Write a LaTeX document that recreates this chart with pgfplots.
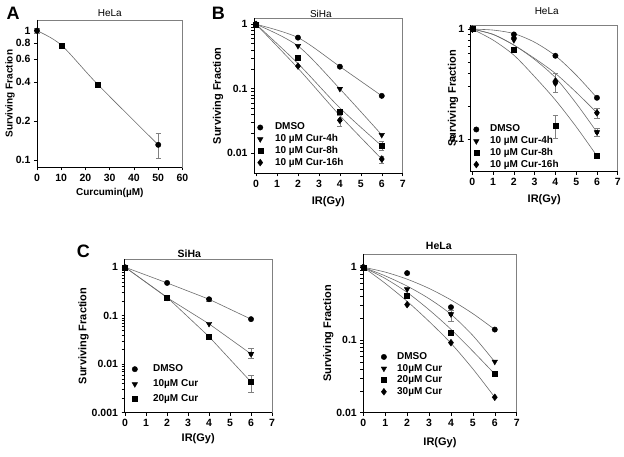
\documentclass[border=0pt]{standalone}
\usepackage{pgfplots}
\pgfplotsset{compat=1.18}
\usepackage{fontspec}
\setmainfont{Liberation Sans}

\newcommand\fs{\fontsize{10.5}{12}\selectfont}
\newcommand\fl{\fontsize{11}{13}\selectfont}
\newcommand\fleg{\fontsize{10}{11}\selectfont\bfseries}

\pgfplotsset{
  panel/.style={
    scale only axis, clip=false,
    axis line style={gray, line width=0.5pt},
    tick pos=left, tick align=outside,
    major tick length=3pt,
    tick style={black, line width=0.5pt},
    tick label style={font=\fs\bfseries},
    /pgf/number format/assume math mode=true,
    label style={font=\fl\bfseries},
    xlabel style={anchor=center},
    ylabel style={anchor=center},
    title style={font=\fontsize{10}{12}\selectfont, at={(axis description cs:0.5,1)}, anchor=base},
    legend cell align=left,
    legend image code/.code={\draw[##1] plot coordinates {(0pt,0pt)};},
    legend style={draw=none, fill=none, anchor=north west, font=\fleg,
      inner sep=0pt, row sep=0pt,
      nodes={text height=7pt, text depth=2pt, inner xsep=1pt}},
    after end axis/.code={\draw[black, line width=0.6pt] (rel axis cs:0,1) -- (rel axis cs:0,0) -- (rel axis cs:1,0);},
  },
  fit/.style={forget plot, gray!85!black, line width=0.6pt, no marks},
  eb/.style={forget plot, only marks, mark=none,
    error bars/y dir=both, error bars/y explicit,
    error bars/error bar style={draw=gray, line width=0.5pt},
    error bars/error mark options={rotate=90, draw=gray, mark size=2.6pt}},
  mc/.style={only marks, mark=*, mark size=2.7pt, black},
  mt/.style={only marks, mark=triangle*, mark size=3.2pt, mark options={rotate=180}, black},
  ms/.style={only marks, mark=square*, mark size=2.5pt, black},
  md/.style={only marks, mark=diamond*, mark size=3.4pt, black},
}

\begin{document}
\begin{tikzpicture}
\useasboundingbox (0,0) rectangle (624pt,457pt);

\node[font=\fontsize{18}{18}\selectfont\bfseries] at (13pt,444pt) {A};
\node[font=\fontsize{18}{18}\selectfont\bfseries] at (218.3pt,443.7pt) {B};
\node[font=\fontsize{18}{18}\selectfont\bfseries] at (83.3pt,205.3pt) {C};

% ---- A: HeLa, curcumin dose
\begin{axis}[panel, ymode=log, at={(37pt,289.5pt)}, anchor=south west, width=145.5pt, height=147.5pt,
  xmin=0, xmax=60, ymin=0.0875, ymax=1.21, xtick={0,10,...,60},
  ytick={0.1,0.2,0.4,0.6,0.8,1}, yticklabels={0.1,0.2,0.4,0.6,0.8,1},
  xlabel={Curcumin(µM)}, ylabel={Surviving Fraction}, title={HeLa},
  label style={font=\fontsize{10}{12}\selectfont\bfseries},
  title style={yshift=-2.8pt},
  xlabel style={at={(axis description cs:0.5,-0.17)}},
  ylabel style={at={(axis description cs:-0.186,0.5)}}]
\addplot[fit, smooth] coordinates {(0,1) (10,0.775) (25,0.385) (50,0.131)};
\addplot[eb] coordinates {(0,1) +- (0,0.04) (50,0.131) += (0,0.029) -= (0,0.028)};
\addplot[mc] coordinates {(0,1) (50,0.131)};
\addplot[ms] coordinates {(10,0.77) (25,0.385)};
\end{axis}

% ---- B: SiHa
\begin{axis}[panel, ymode=log, at={(254pt,283.7pt)}, anchor=south west, width=148.7pt, height=155pt,
  xmin=-0.1, xmax=7, ymin=0.0048, ymax=1.24, xtick={0,...,7},
  ytick={0.01,0.1,1}, yticklabels={0.01,0.1,1},
  xlabel={IR(Gy)}, ylabel={Surviving Fraction}, title={SiHa},
  title style={yshift=-5.2pt, xshift=-7.5pt},
  xlabel style={at={(axis description cs:0.5,-0.183)}},
  ylabel style={at={(axis description cs:-0.242,0.5)}},
  legend style={at={(axis description cs:0.022,0.3345)}, column sep=11pt, nodes={inner ysep=1.35pt}}]
\addplot[fit, smooth] coordinates {(0,1) (2,0.62) (4,0.22) (6,0.077)};
\addplot[fit, smooth] coordinates {(0,1) (2,0.46) (4,0.099) (6,0.019)};
\addplot[fit, smooth] coordinates {(0,1) (2,0.245) (4,0.05) (6,0.0128)};
\addplot[fit, smooth] coordinates {(0,1) (2,0.207) (4,0.038) (6,0.008)};
\addplot[eb] coordinates {(2,0.306) +- (0,0.03) (4,0.0321) += (0,0.007) -= (0,0.0065)
  (6,0.0128) += (0,0.0022) -= (0,0.0018) (6,0.008) += (0,0.0009) -= (0,0.001)};
\addplot[mc] coordinates {(0,1) (2,0.62) (4,0.219) (6,0.077)};
\addplot[mt] coordinates {(0,1) (2,0.46) (4,0.099) (6,0.019)};
\addplot[ms] coordinates {(0,1) (2,0.306) (4,0.0444) (6,0.0128)};
\addplot[md] coordinates {(0,1) (2,0.224) (4,0.0321) (6,0.008)};
\legend{DMSO, 10 µM Cur-4h, 10 µM Cur-8h, 10 µM Cur-16h}
\end{axis}

% ---- B: HeLa
\begin{axis}[panel, ymode=log, at={(470.7pt,285.3pt)}, anchor=south west, width=147pt, height=146.7pt,
  xmin=-0.08, xmax=7, ymin=0.0508, ymax=1.09, xtick={0,...,7},
  ytick={0.1,1}, yticklabels={0.1,1},
  xlabel={IR(Gy)}, ylabel={Surviving Fraction}, title={HeLa},
  title style={yshift=4.2pt, xshift=2.5pt},
  xlabel style={at={(axis description cs:0.5,-0.193)}},
  ylabel style={at={(axis description cs:-0.12,0.5)}},
  legend style={at={(axis description cs:0.018,0.329)}, column sep=10pt, nodes={inner ysep=1.35pt}}]
\addplot[fit, smooth] coordinates {(0,1) (1,0.98) (2,0.91) (3,0.76) (4,0.573) (5,0.383) (6,0.238)};
\addplot[fit, smooth] coordinates {(0,1) (1,0.895) (2,0.716) (3,0.53) (4,0.362) (5,0.212) (6,0.116)};
\addplot[fit, smooth] coordinates {(0,1) (1,0.795) (2,0.58) (3,0.37) (4,0.227) (5,0.13) (6,0.0706)};
\addplot[fit, smooth] coordinates {(0,1) (1,0.895) (2,0.716) (3,0.542) (4,0.396) (5,0.267) (6,0.174)};
\addplot[eb] coordinates {(4,0.322) += (0,0.08) -= (0,0.055) (4,0.132) += (0,0.034) -= (0,0.029)
  (6,0.174) +- (0,0.018) (6,0.116) +- (0,0.01) (0,1) +- (0,0.05)};
\addplot[mc] coordinates {(0,1) (2,0.895) (4,0.573) (6,0.238)};
\addplot[mt] coordinates {(0,1) (2,0.795) (4,0.322) (6,0.116)};
\addplot[ms] coordinates {(0,1) (2,0.655) (4,0.132) (6,0.0706)};
\addplot[md] coordinates {(0,1) (2,0.834) (4,0.338) (6,0.174)};
\legend{DMSO, 10 µM Cur-4h, 10 µM Cur-8h, 10 µM Cur-16h}
\end{axis}

% ---- C: SiHa
\begin{axis}[panel, ymode=log, at={(124.5pt,44.3pt)}, anchor=south west, width=147.5pt, height=153.4pt,
  xmin=-0.03, xmax=7, ymin=0.001, ymax=1.46, xtick={0,...,7},
  ytick={0.001,0.01,0.1,1}, yticklabels={0.001,0.01,0.1,1},
  xlabel={IR(Gy)}, ylabel={Surviving Fraction}, title={\bfseries SiHa},
  title style={yshift=-4.2pt, xshift=-9pt, font=\fontsize{10.5}{12}\selectfont},
  xlabel style={at={(axis description cs:0.5,-0.167)}},
  ylabel style={at={(axis description cs:-0.278,0.5)}},
  legend style={at={(axis description cs:0.05,0.334)}, column sep=14.5pt, nodes={inner ysep=3pt}}]
\addplot[fit] coordinates {(0,1) (2,0.475) (4,0.219) (6,0.085)};
\addplot[fit] coordinates {(0,1) (2,0.236) (4,0.068) (6,0.0163)};
\addplot[fit] coordinates {(0,1) (2,0.24) (4,0.037) (6,0.0043)};
\addplot[eb] coordinates {(6,0.0163) += (0,0.005) -= (0,0.003) (6,0.0043) += (0,0.0017) -= (0,0.0016)
  (4,0.219) +- (0,0.015)};
\addplot[mc] coordinates {(0,1) (2,0.475) (4,0.219) (6,0.085)};
\addplot[mt] coordinates {(0,1) (2,0.236) (4,0.068) (6,0.0163)};
\addplot[ms] coordinates {(0,1) (2,0.24) (4,0.037) (6,0.0043)};
\legend{DMSO, 10µM Cur, 20µM Cur}
\end{axis}

% ---- C: HeLa
\begin{axis}[panel, ymode=log, at={(363.3pt,44.3pt)}, anchor=south west, width=153.4pt, height=158.7pt,
  xmin=0, xmax=7, ymin=0.01, ymax=1.52, xtick={0,...,7},
  ytick={0.01,0.1,1}, yticklabels={0.01,0.1,1},
  xlabel={IR(Gy)}, ylabel={Surviving Fraction}, title={\bfseries HeLa},
  title style={yshift=-1.8pt, xshift=-1.2pt, font=\fontsize{10.5}{12}\selectfont},
  xlabel style={at={(axis description cs:0.5,-0.187)}},
  ylabel style={at={(axis description cs:-0.228,0.5)}},
  legend style={at={(axis description cs:0.115,0.389)}, column sep=9.5pt, nodes={inner ysep=1.3pt}}]
\addplot[fit, smooth] coordinates {(0,1) (1,0.857) (2,0.685) (3,0.511) (4,0.355) (5,0.23) (6,0.139)};
\addplot[fit, smooth] coordinates {(0,1) (1,0.76) (2,0.55) (3,0.37) (4,0.225) (5,0.115) (6,0.05)};
\addplot[fit, smooth] coordinates {(0,1) (1,0.7) (2,0.45) (3,0.26) (4,0.14) (5,0.07) (6,0.034)};
\addplot[fit, smooth] coordinates {(0,1) (1,0.6) (2,0.34) (3,0.18) (4,0.09) (5,0.04) (6,0.0163)};
\addplot[eb] coordinates {(4,0.226) += (0,0.03) -= (0,0.047)};
\addplot[mc] coordinates {(0,1) (2,0.83) (4,0.282) (6,0.139)};
\addplot[mt] coordinates {(0,1) (2,0.498) (4,0.226) (6,0.0503)};
\addplot[ms] coordinates {(0,1) (2,0.412) (4,0.126) (6,0.034)};
\addplot[md] coordinates {(0,1) (2,0.306) (4,0.0918) (6,0.0163)};
\legend{DMSO, 10µM Cur, 20µM Cur, 30µM Cur}
\end{axis}
\end{tikzpicture}
\end{document}
